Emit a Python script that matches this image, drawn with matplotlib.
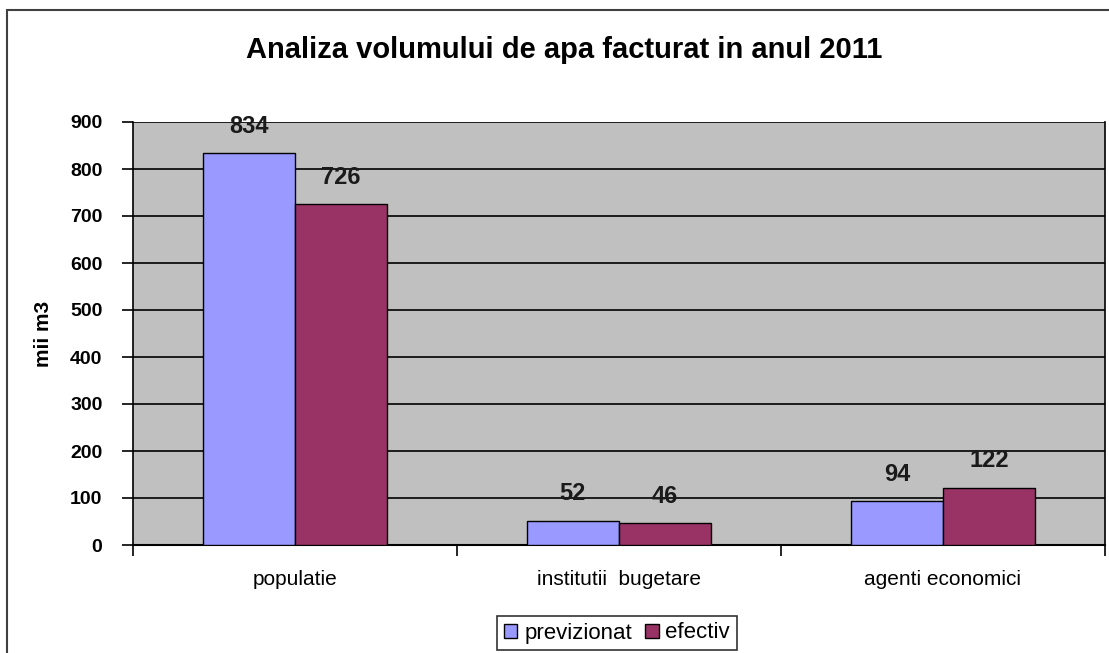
import matplotlib
matplotlib.use("Agg")
import matplotlib.pyplot as plt
import numpy as np
from matplotlib.patches import Rectangle

categories = ["populatie", "institutii  bugetare", "agenti economici"]
previzionat = [834, 52, 94]
efectiv = [726, 46, 122]
yticks = [0, 100, 200, 300, 400, 500, 600, 700, 800, 900]

plt.rcParams['font.family'] = ['Liberation Sans', 'DejaVu Sans']

fig = plt.figure(figsize=(11.09, 6.53), dpi=100)
fig.patch.set_facecolor('white')
# outer chart frame
fig.patches.append(Rectangle((7/1109, -0.05), 1.2, 1 - 10/653 + 0.05, transform=fig.transFigure,
                             fill=False, edgecolor='#404040', linewidth=1.5))

ax = fig.add_axes([133/1109, 1 - 545/653, (1105 - 133)/1109, (545 - 122)/653])
ax.set_facecolor('#C0C0C0')

x = np.arange(len(categories))
w = 0.285
b1 = ax.bar(x - w/2, previzionat, w, color='#9999FF', edgecolor='black', linewidth=1, label='previzionat', zorder=3)
b2 = ax.bar(x + w/2, efectiv, w, color='#993366', edgecolor='black', linewidth=1, label='efectiv', zorder=3)

for bars, vals in ((b1, previzionat), (b2, efectiv)):
    for r, v in zip(bars, vals):
        ax.annotate(str(v), (r.get_x() + r.get_width()/2, v), xytext=(0, 11), textcoords='offset points',
                    ha='center', va='bottom', fontsize=17, fontweight='bold', color='#1a1a1a')

ax.set_xlim(-0.5, 2.5)
ax.set_ylim(0, 900)
ax.set_yticks(yticks)
ax.set_yticklabels([str(t) for t in yticks], fontsize=14, fontweight='bold')
ax.yaxis.grid(True, color='black', linewidth=1.2, zorder=1)
ax.set_axisbelow(True)

ax.set_xticks([-0.5, 0.5, 1.5, 2.5])
ax.set_xticklabels([])
ax.set_xticks(x, minor=True)
ax.set_xticklabels(categories, minor=True, fontsize=15)
ax.tick_params(axis='x', which='minor', length=0, pad=18)
ax.tick_params(axis='x', which='major', length=8, width=1.2, direction='out')
ax.tick_params(axis='y', length=8, width=1.2, direction='out', pad=14)

ax.spines['top'].set_visible(False)
ax.spines['left'].set_linewidth(1.2)
ax.spines['bottom'].set_linewidth(1.5)
ax.spines['right'].set_linewidth(1.2)

ax.set_ylabel('mii m3', fontsize=15, fontweight='bold', labelpad=12)

fig.text(564/1109, 1 - 50/653, 'Analiza volumului de apa facturat in anul 2011', ha='center', va='center',
         fontsize=21, fontweight='bold')

leg = fig.legend(handles=[b1, b2], loc='center', bbox_to_anchor=(617/1109, 1 - 633/653), ncol=2,
                 frameon=True, fancybox=False, edgecolor='black', fontsize=16,
                 handlelength=0.6, handleheight=0.6, handletextpad=0.3, columnspacing=0.6,
                 borderpad=0.3)
leg.get_frame().set_linewidth(1.2)

fig.savefig('out.png', dpi=100)
